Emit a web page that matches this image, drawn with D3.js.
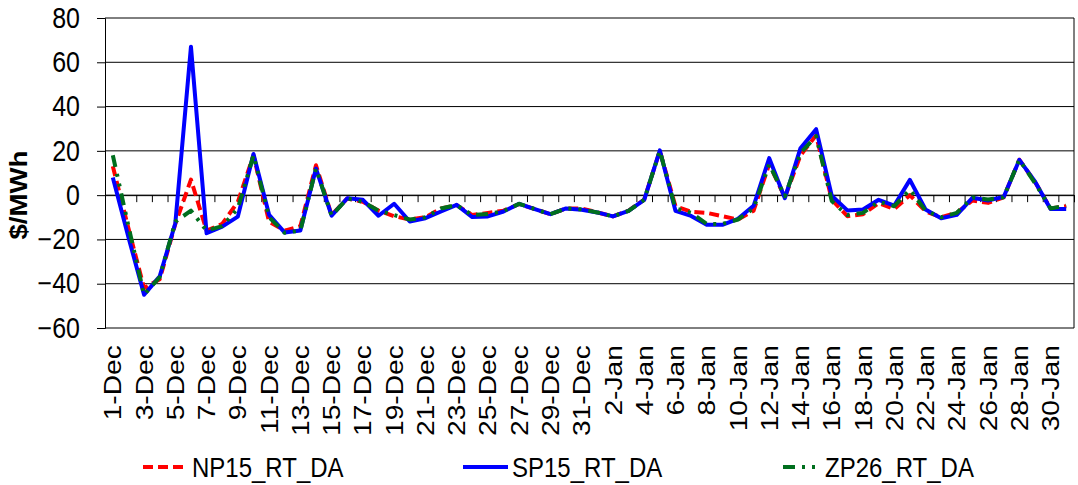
<!DOCTYPE html>
<html>
<head>
<meta charset="utf-8">
<script src="https://cdn.jsdelivr.net/npm/d3@7"></script>
<style>
  body { margin: 0; background: #fff; }
  text { font-family: "Liberation Sans", Arial, sans-serif; fill: #000; }
</style>
</head>
<body>
<div id="chartContainer"></div>
<script>
// daily categories, 1-Dec .. 31-Jan
var categories = [
  "1-Dec","2-Dec","3-Dec","4-Dec","5-Dec","6-Dec","7-Dec","8-Dec","9-Dec","10-Dec",
  "11-Dec","12-Dec","13-Dec","14-Dec","15-Dec","16-Dec","17-Dec","18-Dec","19-Dec","20-Dec",
  "21-Dec","22-Dec","23-Dec","24-Dec","25-Dec","26-Dec","27-Dec","28-Dec","29-Dec","30-Dec","31-Dec",
  "1-Jan","2-Jan","3-Jan","4-Jan","5-Jan","6-Jan","7-Jan","8-Jan","9-Jan","10-Jan",
  "11-Jan","12-Jan","13-Jan","14-Jan","15-Jan","16-Jan","17-Jan","18-Jan","19-Jan","20-Jan",
  "21-Jan","22-Jan","23-Jan","24-Jan","25-Jan","26-Jan","27-Jan","28-Jan","29-Jan","30-Jan","31-Jan"
];

var np15 = [13, -15, -42, -38, -13, 7, -16, -13, -3, 18, -12, -16, -14, 13.5, -9, -1.5, -3, -7, -9.5, -11,
  -10, -6, -4.5, -9, -8, -7, -4, -6.3, -8.6, -6, -6, -7.8, -9.6, -7, -2, 20, -5, -7.5, -8, -9.5,
  -11, -7, 14, -1, 18, 27, -2, -9.5, -8.6, -3.6, -6.3, 0, -7.3, -10, -8, -2.4, -3.5, -1, 16, 6, -6, -5];

var sp15 = [8, -19, -45, -36.7, -12.7, 67, -17.2, -14.2, -9.7, 18.6, -8.9, -16.9, -16, 12, -9.3, -1.4, -2.1, -9.3, -3.9, -11.9,
  -10.4, -7.4, -4.4, -9.9, -9.6, -7.4, -3.9, -6.3, -8.6, -6, -6.6, -7.8, -9.6, -7.1, -2.1, 20.2, -7.1, -9.4, -13.4, -13.4,
  -10.7, -4.8, 16.7, -1.4, 21.2, 29.8, -0.2, -6.9, -6.5, -2.1, -4.7, 6.9, -6.5, -10.4, -8.9, -1.2, -2.4, -0.8, 15.9, 6.2, -6.3, -6.3];

var zp26 = [18, -14, -45, -37, -12, -7, -16, -14, -6, 18, -10, -17, -16, 12, -9.3, -1.5, -3, -7, -9, -11,
  -10, -6, -4.5, -9, -8.5, -7.2, -3.9, -6.3, -8.6, -6, -6.4, -7.8, -9.6, -7.1, -2.1, 20, -6, -8, -13, -13,
  -11, -6, 14, -0.5, 19, 26.6, -2.7, -9, -8, -3, -5, 2.5, -7, -10, -8, -1, -2, -1, 16, 5.5, -6, -4.7];

var seriesNames = ["NP15_RT_DA", "SP15_RT_DA", "ZP26_RT_DA"];
var yTicks = [-60, -40, -20, 0, 20, 40, 60, 80];

var width = 1078, height = 485;
var margin = {top: 18, right: 4, bottom: 157, left: 105};
var stretch = 1.15; // text in the original is a little taller than wide

var svg = d3.select("#chartContainer")
    .append("svg")
    .attr("width", width)
    .attr("height", height);

var xScale = d3.scaleBand()
    .domain(categories)
    .range([margin.left, width - margin.right])
    .padding(0);

var edgeScale = d3.scaleLinear()
    .domain([0, categories.length])
    .range([margin.left, width - margin.right]);

var yScale = d3.scaleLinear()
    .domain([-60, 80])
    .range([height - margin.bottom, margin.top]);

function cx(d, i) { return xScale(categories[i]) + xScale.bandwidth() / 2; }

// gridlines
svg.append("g")
    .selectAll("line")
    .data(yTicks)
    .enter()
    .append("line")
    .attr("x1", margin.left)
    .attr("x2", width - margin.right)
    .attr("y1", function(d) { return yScale(d); })
    .attr("y2", function(d) { return yScale(d); })
    .attr("stroke", "#000")
    .attr("stroke-width", 1);

// right border of plot area
svg.append("line")
    .attr("x1", width - margin.right).attr("x2", width - margin.right)
    .attr("y1", yScale(80)).attr("y2", yScale(-60))
    .attr("stroke", "#000");

// y axis
var axisVertical = d3.axisLeft(yScale).tickValues(yTicks).tickSize(8).tickPadding(17);
var gy = svg.append("g")
    .attr("transform", "translate(" + margin.left + ",0)")
    .call(axisVertical);
gy.select(".domain").attr("stroke", "#000");
gy.selectAll(".tick line").attr("stroke", "#000");
gy.selectAll("text")
    .style("font-size", "25px")
    .style("font-family", "'Liberation Sans', Arial, sans-serif")
    .attr("fill", "#000")
    .attr("transform", "scale(1," + stretch + ")");

// category axis along zero, tick marks at boundaries
var axisZero = d3.axisBottom(edgeScale)
    .tickValues(d3.range(categories.length + 1))
    .tickSize(7)
    .tickFormat("");
var gz = svg.append("g")
    .attr("transform", "translate(0," + yScale(0) + ")")
    .call(axisZero);
gz.select(".domain").attr("stroke", "#000");
gz.selectAll(".tick line").attr("stroke", "#000");

// category labels at bottom, every other day
var axisHorizontal = d3.axisBottom(xScale)
    .tickValues(categories.filter(function(d, i) { return i % 2 === 0; }))
    .tickSize(0);
var gx = svg.append("g")
    .attr("transform", "translate(0," + (height - margin.bottom + 12) + ")")
    .call(axisHorizontal);
gx.select(".domain").remove();
gx.selectAll("text")
    .style("font-size", "24.5px")
    .style("font-family", "'Liberation Sans', Arial, sans-serif")
    .attr("fill", "#000")
    .attr("transform", "scale(1," + stretch + ") rotate(-90)")
    .attr("text-anchor", "end")
    .attr("x", -4.5)
    .attr("y", 0)
    .attr("dy", "0.35em");

// y title
svg.append("text")
    .attr("transform", "translate(19," + yScale(0) + ") scale(1," + stretch + ") rotate(-90)")
    .attr("text-anchor", "middle")
    .attr("dy", "0.35em")
    .style("font-size", "24px")
    .style("font-weight", "bold")
    .text("$/MWh");

// lines
var line = d3.line()
    .x(cx)
    .y(function(d) { return yScale(d); });

var styles = [
  {color: "#ff0000", dash: "10,5"},
  {color: "#0000ff", dash: null},
  {color: "#006f1e", dash: "12,7,3,7,3,7"}
];
var allSeries = [np15, sp15, zp26];

allSeries.forEach(function(s, k) {
    svg.append("path")
        .datum(s)
        .attr("d", line)
        .attr("fill", "none")
        .attr("stroke", styles[k].color)
        .attr("stroke-width", 4)
        .attr("stroke-linejoin", "round")
        .attr("stroke-dasharray", styles[k].dash);
});

// legend
var legendPos = [{x1: 143, x2: 184, tx: 192}, {x1: 463, x2: 508, tx: 512}, {x1: 783, x2: 821, tx: 825}];
var legend = svg.append("g");
seriesNames.forEach(function(name, k) {
    legend.append("line")
        .attr("x1", legendPos[k].x1).attr("x2", legendPos[k].x2)
        .attr("y1", 467).attr("y2", 467)
        .attr("stroke", styles[k].color)
        .attr("stroke-width", 4)
        .attr("stroke-dasharray", styles[k].dash);
    legend.append("text")
        .attr("transform", "translate(" + legendPos[k].tx + ",467) scale(1," + stretch + ")")
        .attr("dy", "0.35em")
        .style("font-size", "24px")
        .text(name);
});
</script>
</body>
</html>
